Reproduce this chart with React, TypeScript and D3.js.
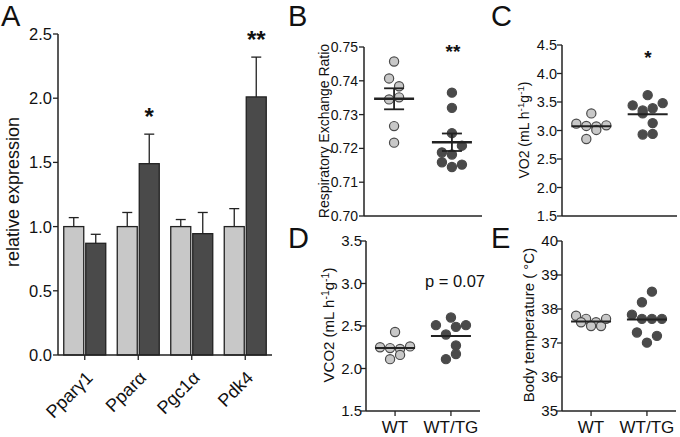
import React from "react";
import * as d3 from "d3";

const FONT = "'Liberation Sans', Arial, Helvetica, sans-serif";
const LIGHT = "#c8c8c8";
const DARK = "#4a4a4a";
const INK = "#222";

// Panel A data
const genes = ["Pparγ1", "Pparα", "Pgc1α", "Pdk4"];
const wtExpression = [1.0, 1.0, 1.0, 1.0];
const wtExpressionErr = [0.07, 0.11, 0.055, 0.14];
const tgExpression = [0.87, 1.49, 0.945, 2.01];
const tgExpressionErr = [0.07, 0.23, 0.165, 0.31];
const expressionSig = ["", "*", "", "**"];
const expressionTicks = [0, 0.5, 1.0, 1.5, 2.0, 2.5];

const groups = ["WT", "WT/TG"];

// Panel B: respiratory exchange ratio
const rerWT = [0.7457, 0.7407, 0.7384, 0.7345, 0.7351, 0.7266, 0.7217];
const rerWTSlot = [0, -0.5, 0.5, -0.5, 0.5, 0, 0];
const rerTG = [0.7365, 0.732, 0.7245, 0.7208, 0.7188, 0.7182, 0.7159, 0.7145, 0.7152];
const rerTGSlot = [0, 0, 0, 1, -1, 0, -1, 0, 1];
const rerTicks = [0.7, 0.71, 0.72, 0.73, 0.74, 0.75];

// Panel C: VO2
const vo2WT = [3.3, 3.12, 3.08, 3.07, 3.01, 3.09, 2.85];
const vo2WTSlot = [0, -1.5, -0.5, 0.5, 0.5, 1.5, -0.5];
const vo2TG = [3.62, 3.44, 3.35, 3.39, 3.48, 3.3, 3.13, 2.93, 2.94];
const vo2TGSlot = [0, -1.5, -0.5, 0.5, 1.5, -0.5, 0.5, -0.5, 0.5];
const vo2Ticks = [1.5, 2.0, 2.5, 3.0, 3.5, 4.0, 4.5];

// Panel D: VCO2
const vco2WT = [2.43, 2.25, 2.24, 2.23, 2.26, 2.11, 2.16];
const vco2WTSlot = [0, -1.5, -0.5, 0.5, 1.5, -0.5, 0.5];
const vco2TG = [2.51, 2.6, 2.49, 2.51, 2.4, 2.27, 2.17, 2.11];
const vco2TGSlot = [-1.5, 0, 0.5, 1.5, -0.5, 0.5, 0.5, -0.5];
const vco2Ticks = [1.5, 2.0, 2.5, 3.0, 3.5];

// Panel E: body temperature
const tempWT = [37.8, 37.71, 37.61, 37.61, 37.5, 37.5, 37.71];
const tempWTSlot = [-1.5, -0.5, -1, 0.5, 0, 1, 1.5];
const tempTG = [38.51, 38.2, 37.83, 37.71, 37.71, 37.71, 37.31, 37.21, 37.01];
const tempTGSlot = [0.5, -0.5, -1.5, -0.5, 0.5, 1.5, -1, 1, 0];
const tempTicks = [35, 36, 37, 38, 39, 40];

function PanelA() {
  const left = 58, right = 272, top = 34, bottom = 355;
  const y = d3.scaleLinear().domain([0, 2.5]).range([bottom, top]);
  const x = d3.scaleBand<string>().domain(genes).range([left, right]);
  const bw = 20;
  return (
    <g>
      <text x={1} y={26} fontSize={29} fontFamily={FONT} fill="#111">A</text>
      {genes.map((g, i) => {
        const c = x(g)! + x.bandwidth() / 2;
        const bars = [
          { v: wtExpression[i], e: wtExpressionErr[i], x0: c - 1 - bw, fill: LIGHT },
          { v: tgExpression[i], e: tgExpressionErr[i], x0: c + 1, fill: DARK },
        ];
        return (
          <g key={g}>
            {bars.map((b, j) => (
              <g key={j}>
                <line x1={b.x0 + bw / 2} x2={b.x0 + bw / 2} y1={y(b.v)} y2={y(b.v + b.e)} stroke={INK} strokeWidth={1.3} />
                <line x1={b.x0 + bw / 2 - 5} x2={b.x0 + bw / 2 + 5} y1={y(b.v + b.e)} y2={y(b.v + b.e)} stroke={INK} strokeWidth={1.3} />
                <rect x={b.x0} y={y(b.v)} width={bw} height={bottom - y(b.v)} fill={b.fill} stroke={INK} strokeWidth={1.3} />
              </g>
            ))}
            {expressionSig[i] && (
              <text x={c + 1 + bw / 2} y={y(tgExpression[i] + tgExpressionErr[i]) - 9} textAnchor="middle" fontSize={24} fontWeight="bold" fontFamily={FONT} fill="#111">
                {expressionSig[i]}
              </text>
            )}
            <line x1={c} x2={c} y1={bottom} y2={bottom + 5} stroke={INK} strokeWidth={1.3} />
            <text transform={`translate(${c + 9},${bottom + 24}) rotate(-45)`} textAnchor="end" fontSize={18} fontFamily={FONT} fill="#111">{g}</text>
          </g>
        );
      })}
      <line x1={left} x2={left} y1={top} y2={bottom} stroke={INK} strokeWidth={1.5} />
      <line x1={left} x2={right} y1={bottom} y2={bottom} stroke={INK} strokeWidth={1.5} />
      {expressionTicks.map((t) => (
        <g key={t}>
          <line x1={left - 5} x2={left} y1={y(t)} y2={y(t)} stroke={INK} strokeWidth={1.3} />
          <text x={left - 6} y={y(t)} dy="0.36em" textAnchor="end" fontSize={16.5} fontFamily={FONT} fill="#111">{t.toFixed(1)}</text>
        </g>
      ))}
      <text transform={`translate(19,192) rotate(-90)`} textAnchor="middle" fontSize={18} fontFamily={FONT} fill="#111">relative expression</text>
    </g>
  );
}

type ScatterProps = {
  letter: string;
  letterX: number;
  letterY: number;
  left: number;
  right: number;
  top: number;
  bottom: number;
  domain: [number, number];
  ticks: number[];
  fmt: string;
  tickFont: number;
  tickGap: number;
  wt: number[];
  wtSlot: number[];
  tg: number[];
  tgSlot: number[];
  sem?: boolean;
  showX?: boolean;
  label: React.ReactNode;
  labelX: number;
  labelY: number;
  labelFont: number;
  annotation?: string;
  annotationFont?: number;
  annotationBold?: boolean;
  annotationX?: number;
  annotationY?: number;
};

function Scatter(p: ScatterProps) {
  const y = d3.scaleLinear().domain(p.domain).range([p.bottom, p.top]);
  const x = d3.scalePoint<string>().domain(groups).range([p.left, p.right]).padding(0.52);
  const fmt = d3.format(p.fmt);
  const sets = [
    { key: "WT", vals: p.wt, slots: p.wtSlot, fill: LIGHT, stroke: "#4a4a4a" },
    { key: "WT/TG", vals: p.tg, slots: p.tgSlot, fill: DARK, stroke: DARK },
  ];
  const unit = 10;
  return (
    <g>
      <text x={p.letterX} y={p.letterY} fontSize={29} fontFamily={FONT} fill="#111">{p.letter}</text>
      {sets.map((s) => {
        const cx = x(s.key)!;
        const mean = d3.mean(s.vals)!;
        const sd = d3.deviation(s.vals)!;
        const se = sd / Math.sqrt(s.vals.length);
        return (
          <g key={s.key}>
            {s.vals.map((v, i) => (
              <circle key={i} cx={cx + s.slots[i] * unit} cy={y(v)} r={4.6} fill={s.fill} stroke={s.stroke} strokeWidth={1.2} />
            ))}
            <line x1={cx - 20} x2={cx + 20} y1={y(mean)} y2={y(mean)} stroke={INK} strokeWidth={p.sem ? 2.4 : 2} />
            {p.sem && (
              <g stroke={INK} strokeWidth={1.8}>
                <line x1={cx} x2={cx} y1={y(mean - se)} y2={y(mean + se)} />
                <line x1={cx - 10} x2={cx + 10} y1={y(mean - se)} y2={y(mean - se)} />
                <line x1={cx - 10} x2={cx + 10} y1={y(mean + se)} y2={y(mean + se)} />
              </g>
            )}
            {p.showX && (
              <g>
                <line x1={cx} x2={cx} y1={p.bottom} y2={p.bottom + 5} stroke={INK} strokeWidth={1.3} />
                <text x={cx} y={p.bottom + 22} textAnchor="middle" fontSize={17} fontFamily={FONT} fill="#111">{s.key}</text>
              </g>
            )}
          </g>
        );
      })}
      <line x1={p.left} x2={p.left} y1={p.top} y2={p.bottom} stroke={INK} strokeWidth={1.5} />
      <line x1={p.left} x2={p.right} y1={p.bottom} y2={p.bottom} stroke={INK} strokeWidth={1.5} />
      {p.ticks.map((t) => (
        <g key={t}>
          <line x1={p.left - 5} x2={p.left} y1={y(t)} y2={y(t)} stroke={INK} strokeWidth={1.3} />
          <text x={p.left - p.tickGap} y={y(t)} dy="0.36em" textAnchor="end" fontSize={p.tickFont} fontFamily={FONT} fill="#111">{fmt(t)}</text>
        </g>
      ))}
      <text transform={`translate(${p.labelX},${p.labelY}) rotate(-90)`} textAnchor="middle" fontSize={p.labelFont} fontFamily={FONT} fill="#111">{p.label}</text>
      {p.annotation && (
        <text x={p.annotationX} y={p.annotationY} textAnchor="middle" fontSize={p.annotationFont} fontWeight={p.annotationBold ? "bold" : "normal"} fontFamily={FONT} fill="#111">{p.annotation}</text>
      )}
    </g>
  );
}

function unitLabel(prefix: string) {
  return (
    <>
      <tspan>{prefix} (mL h</tspan>
      <tspan dy={-5} fontSize="0.7em">-1</tspan>
      <tspan dy={5}>g</tspan>
      <tspan dy={-5} fontSize="0.7em">-1</tspan>
      <tspan dy={5}>)</tspan>
    </>
  );
}

export default function App() {
  return (
    <svg width={680} height={437} style={{ position: "absolute", left: 0, top: 0, background: "#fff" }}>
      <rect width={680} height={437} fill="#fff" />
      <PanelA />
      <Scatter
        letter="B" letterX={288} letterY={26}
        left={364} right={482} top={47} bottom={216}
        domain={[0.7, 0.75]} ticks={rerTicks} fmt=".2f" tickFont={14} tickGap={6}
        wt={rerWT} wtSlot={rerWTSlot} tg={rerTG} tgSlot={rerTGSlot} sem
        label="Respiratory Exchange Ratio" labelX={329} labelY={131} labelFont={14}
        annotation="**" annotationFont={19} annotationBold annotationX={453} annotationY={58}
      />
      <Scatter
        letter="C" letterX={491} letterY={26}
        left={562} right={677} top={45} bottom={216}
        domain={[1.5, 4.5]} ticks={vo2Ticks} fmt=".1f" tickFont={14.5} tickGap={5}
        wt={vo2WT} wtSlot={vo2WTSlot} tg={vo2TG} tgSlot={vo2TGSlot}
        label={unitLabel("VO2")} labelX={529} labelY={130} labelFont={14}
        annotation="*" annotationFont={19} annotationBold annotationX={648} annotationY={64}
      />
      <Scatter
        letter="D" letterX={288} letterY={248}
        left={366} right={480} top={241} bottom={411}
        domain={[1.5, 3.5]} ticks={vco2Ticks} fmt=".1f" tickFont={15} tickGap={4}
        wt={vco2WT} wtSlot={vco2WTSlot} tg={vco2TG} tgSlot={vco2TGSlot} showX
        label={unitLabel("VCO2")} labelX={334} labelY={325} labelFont={15}
        annotation="p = 0.07" annotationFont={16.5} annotationX={455} annotationY={287}
      />
      <Scatter
        letter="E" letterX={491} letterY={248}
        left={562} right={676} top={241} bottom={411}
        domain={[35, 40]} ticks={tempTicks} fmt="d" tickFont={15} tickGap={4}
        wt={tempWT} wtSlot={tempWTSlot} tg={tempTG} tgSlot={tempTGSlot} showX
        label="Body temperature ( °C)" labelX={534} labelY={325} labelFont={15}
      />
    </svg>
  );
}
